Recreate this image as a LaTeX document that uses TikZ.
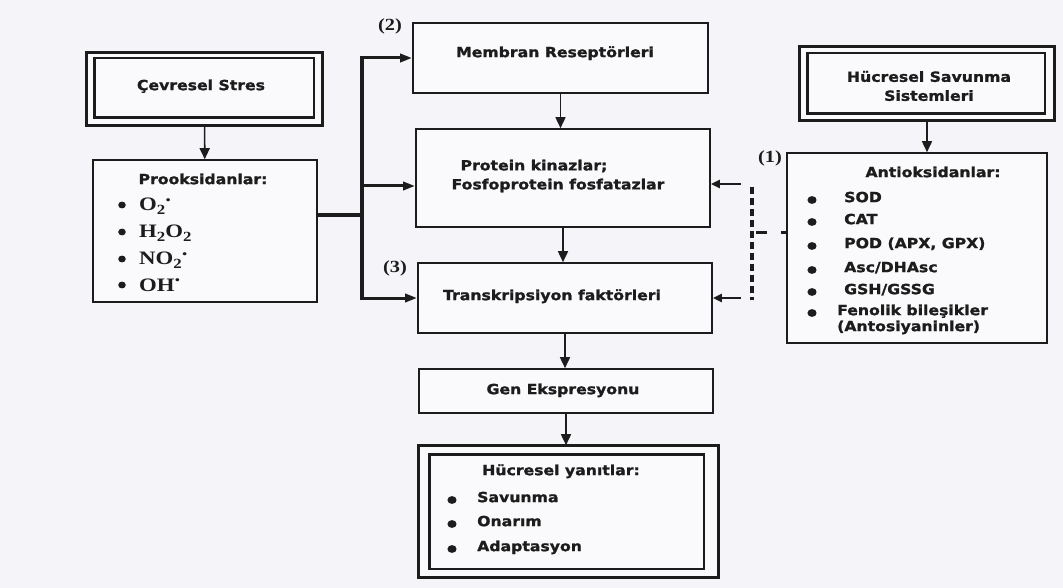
\documentclass[tikz,border=0pt]{standalone}
\usepackage{fontspec}
\usetikzlibrary{arrows.meta,calc}
\newfontfamily\sfb{DejaVu Sans Bold}[FakeStretch=1.12, FakeBold=1.3]
\newfontfamily\serb{Liberation Serif Bold}[FakeStretch=1.2]
\definecolor{ink}{HTML}{1C1C1C}
\definecolor{paper}{HTML}{F5F5F9}
% chemical subscript and radical dot (kept out of the line height)
\newcommand\chsub[1]{\raisebox{-0.2em}[0pt][0pt]{\fontsize{14}{14}\selectfont #1}}
\newcommand\rdot{\raisebox{0.5em}[0pt][0pt]{.}}
\tikzset{
  box/.style={draw=ink, line width=1.6pt, fill=white!55!paper, inner sep=0pt},
  frame/.style={draw=ink, line width=2.6pt},
  arr/.style={draw=ink, line width=1.6pt, -{Triangle[length=11pt,width=10pt]}},
  bus/.style={draw=ink, line width=4pt, line cap=rect},
  busarr/.style={draw=ink, line width=3pt, -{Triangle[length=12pt,width=8pt]}},
  dsh/.style={draw=ink, line width=4pt, dash pattern=on 7pt off 4pt},
  dshh/.style={draw=ink, line width=3pt, dash pattern=on 5pt off 14pt on 11pt off 5pt},
  darr/.style={draw=ink, line width=2.5pt, -{Triangle[length=9pt,width=8pt]}},
  lbl/.style={font=\sfb\fontsize{14}{19}\selectfont, text=ink, inner sep=0pt, anchor=mid},
  item/.style={font=\sfb\fontsize{14}{16}\selectfont, text=ink, inner sep=0pt, anchor=mid west},
  chem/.style={font=\serb\fontsize{19}{20}\selectfont, text=ink, inner sep=0pt, anchor=base west},
  num/.style={font=\serb\fontsize{17}{20}\selectfont, text=ink, inner sep=0pt},
}
\begin{document}
\begin{tikzpicture}[x=1pt,y=-1pt]
\fill[paper] (0,0) rectangle (1063,588);
\useasboundingbox (0,0) rectangle (1063,588);

% ---- boxes ----
\node[box, minimum width=235pt, minimum height=72pt] (cev) at (204.5,89) {};
\draw[frame] (cev.north west) rectangle (cev.south east);
\draw[frame] ($(cev.north west)+(8,6)$) rectangle ($(cev.south east)+(-9,-8)$);

\node[box, minimum width=224pt, minimum height=142pt] (prook) at (205,231) {};

\node[box, minimum width=295pt, minimum height=70pt] (mem) at (560.5,58) {};
\node[box, minimum width=294pt, minimum height=98pt] (prot) at (563,178) {};
\node[box, minimum width=294pt, minimum height=70pt] (trans) at (565,298) {};
\node[box, minimum width=294pt, minimum height=44pt] (gen) at (566,391) {};

\node[box, minimum width=299pt, minimum height=131pt] (yan) at (568.5,511.5) {};
\draw[frame] (yan.north west) rectangle (yan.south east);
\draw[frame] ($(yan.north west)+(11,9)$) rectangle ($(yan.south east)+(-15,-9)$);

\node[box, minimum width=254pt, minimum height=73pt] (sav) at (927,83.5) {};
\draw[frame] (sav.north west) rectangle (sav.south east);
\draw[frame] ($(sav.north west)+(8,7)$) rectangle ($(sav.south east)+(-10,-7)$);

\node[box, minimum width=260pt, minimum height=190pt] (anti) at (917,248) {};

% ---- texts ----
\node[lbl] (tcev) at (201,88) {Çevresel Stres};
\node[lbl] (tprook) at (203,182) {Prooksidanlar:};
\node[lbl] (tmem) at (555,55) {Membran Reseptörleri};
\node[lbl, align=left, anchor=center] (tprot) at (558,176)
  {\hspace*{9pt}Protein kinazlar;\\Fosfoprotein fosfatazlar};
\node[lbl] (ttrans) at (552,298) {Transkripsiyon faktörleri};
\node[lbl] (tgen) at (563,392) {Gen Ekspresyonu};
\node[lbl, align=center, anchor=center] (tsav) at (929,86) {Hücresel Savunma\\Sistemleri};
\node[lbl] (tanti) at (933,175) {Antioksidanlar:};
\node[lbl] (tyan) at (561,473) {Hücresel yanıtlar:};

% prooxidant list
\foreach \y in {205,232,259,285} \fill[ink] (122,\y) ellipse (3.8pt and 3.4pt);
\node[chem] (c1) at (139,211) {O\chsub{2}\rdot};
\node[chem] (c2) at (139,238) {H\chsub{2}O\chsub{2}};
\node[chem] (c3) at (139,265) {NO\chsub{2}\rdot};
\node[chem] (c4) at (139,291) {OH\rdot};

% antioxidant list
\foreach \y in {200,222,246,270,292,313} \fill[ink] (812,\y) ellipse (4.6pt and 3.9pt);
\node[item] (a1) at (844,200) {SOD};
\node[item] (a2) at (844,222) {CAT};
\node[item] (a3) at (844,246) {POD (APX, GPX)};
\node[item] (a4) at (844,270) {Asc/DHAsc};
\node[item] (a5) at (844,292) {GSH/GSSG};
\node[item] (a6) at (837,313) {Fenolik bileşikler};
\node[item] (a7) at (837,329) {(Antosiyaninler)};

% cellular responses list
\foreach \y in {500,524,549} \fill[ink] (452,\y) ellipse (4.6pt and 3.9pt);
\node[item] (r1) at (477,500) {Savunma};
\node[item] (r2) at (477,524) {Onarım};
\node[item] (r3) at (477,549) {Adaptasyon};

% step numbers
\node[num] (n2) at (390,26) {(2)};
\node[num] (n3) at (395,268) {(3)};
\node[num] (n1) at (770,158) {(1)};

% ---- vertical flow arrows ----
\draw[arr] (cev) -- (prook);
\draw[arr] (mem.south) -- (mem.south |- prot.north);
\draw[arr] (prot.south) -- (prot.south |- trans.north);
\draw[arr] (trans.south) -- (trans.south |- gen.north);
\draw[arr] (gen.south) -- (gen.south |- yan.north);
\draw[arr] (sav.south) -- (sav.south |- anti.north);

% ---- prooxidant bus ----
\coordinate (bx) at (362,0);
\coordinate (pj) at (362,215);
\draw[bus] (prook.east |- pj) -- (pj);
\draw[bus] (bx |- mem.west) -- (bx |- trans.west);
\draw[busarr] (bx |- mem.west) -- (mem.west);
\draw[busarr] ($(bx |- prot.west)+(0,8)$) -- ($(prot.west)+(0,8)$);
\draw[busarr] (bx |- trans.west) -- (trans.west);

% ---- antioxidant feedback (dashed) ----
\coordinate (dv) at (752,0);
\coordinate (ah) at ($(anti.west)+(0,-15)$);
\draw[dshh] (ah) -- (dv |- ah);
\draw[dsh] ($(dv |- prot.east)+(0,9)$) -- ($(dv |- trans.east)+(0,2)$);
\draw[darr] ($(prot.east)+(30,6)$) -- ($(prot.east)+(0,6)$);
\draw[darr] ($(trans.east)+(28,0)$) -- (trans.east);
\end{tikzpicture}
\end{document}
